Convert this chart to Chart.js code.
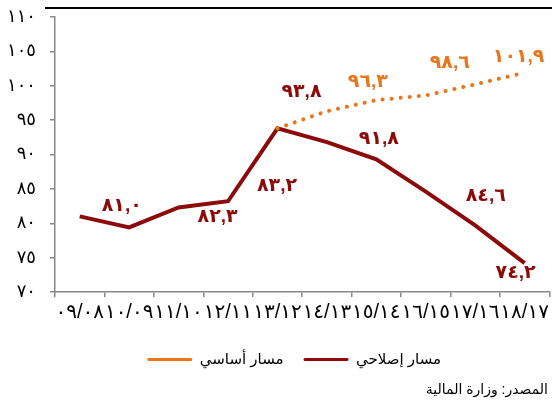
<!DOCTYPE html>
<html><head><meta charset="utf-8">
<script src="https://cdn.jsdelivr.net/npm/chart.js@4"></script>
<style>html,body{margin:0;padding:0;background:#fff}</style>
</head><body>
<canvas id="c" width="552" height="405"></canvas>
<script>
const categories = ['٠٩/٠٨','١٠/٠٩','١١/١٠','١٢/١١','١٣/١٢','١٤/١٣','١٥/١٤','١٦/١٥','١٧/١٦','١٨/١٧'];
const reformPath = [81.0, 79.4, 82.3, 83.2, 93.8, 91.8, 89.3, 84.6, 79.7, 74.2];
const baselinePath = [null, null, null, null, 93.8, 96.3, 97.9, 98.6, 100.2, 101.9];
const reformLabelIdx = [0, 2, 3, 4, 5, 7, 9];
const baselineLabelIdx = [5, 7, 9];
const yTickValues = [70, 75, 80, 85, 90, 95, 100, 105, 110];
const yTickLabels = ['٧٠','٧٥','٨٠','٨٥','٩٠','٩٥','١٠٠','١٠٥','١١٠'];
const seriesNames = ['مسار أساسي', 'مسار إصلاحي'];
const sourceText = 'المصدر: وزارة المالية';

const RED = '#8B0A0A';
const ORANGE = '#E8761C';
const FONT = "Arial, 'Liberation Sans', 'DejaVu Sans', sans-serif";
const toArabicDigits = s => s.replace(/[0-9]/g, d => '٠١٢٣٤٥٦٧٨٩'[+d]);
const fmt = v => toArabicDigits(v.toFixed(1).replace('.', ','));

// label offsets (pixels from the point) per dataset index -> {pointIndex: [dx, dy]}
const labelOffsets = [
  {5: [39, -29], 7: [22, -33], 9: [-8, -16]},
  {0: [40, -11], 2: [37, 9], 3: [47, -15], 4: [22, -37], 5: [50, -3], 7: [58, 4], 9: [-11, 10]}
];
const labelIdx = [baselineLabelIdx, reformLabelIdx];

const decorPlugin = {
  id: 'decor',
  afterLayout(chart) {
    if (chart.legend) { chart.legend.left -= 8; chart.legend.right -= 8; }
  },
  beforeDraw(chart) {
    const ctx = chart.ctx;
    ctx.save();
    ctx.strokeStyle = '#000';
    ctx.lineWidth = 2;
    ctx.beginPath();
    ctx.moveTo(45, 8);
    ctx.lineTo(552, 8);
    ctx.stroke();
    ctx.restore();
  },
  afterDatasetsDraw(chart) {
    const ctx = chart.ctx;
    ctx.save();
    ctx.font = 'bold 19px ' + FONT;
    ctx.textAlign = 'center';
    ctx.textBaseline = 'middle';
    if ('letterSpacing' in ctx) ctx.letterSpacing = '4px';
    chart.data.datasets.forEach((ds, di) => {
      const meta = chart.getDatasetMeta(di);
      ctx.fillStyle = ds.borderColor;
      labelIdx[di].forEach(i => {
        const pt = meta.data[i];
        const off = labelOffsets[di][i] || [0, -12];
        ctx.fillText(fmt(ds.data[i]), pt.x + off[0] + 2, pt.y + off[1]);
      });
    });
    ctx.restore();
  },
  afterDraw(chart) {
    const ctx = chart.ctx;
    ctx.save();
    ctx.font = '14px ' + FONT;
    ctx.fillStyle = '#000';
    ctx.textAlign = 'right';
    ctx.textBaseline = 'middle';
    ctx.fillText(sourceText, 548, 390);
    ctx.restore();
  }
};

new Chart(document.getElementById('c'), {
  type: 'line',
  data: {
    labels: categories,
    datasets: [
      {
        label: seriesNames[0],
        data: baselinePath,
        borderColor: ORANGE,
        backgroundColor: ORANGE,
        borderWidth: 4,
        borderDash: [0.1, 9],
        borderCapStyle: 'round',
        pointRadius: 0,
        tension: 0,
        fill: false
      },
      {
        label: seriesNames[1],
        data: reformPath,
        borderColor: RED,
        backgroundColor: RED,
        borderWidth: 4,
        borderJoinStyle: 'miter',
        pointRadius: 0,
        tension: 0,
        fill: false
      }
    ]
  },
  options: {
    responsive: false,
    devicePixelRatio: 1,
    animation: false,
    layout: {padding: {top: 17, left: 0, right: 2, bottom: 28}},
    plugins: {
      tooltip: {enabled: false},
      legend: {
        position: 'bottom',
        fullSize: false,
        labels: {
          boxWidth: 45,
          boxHeight: 3,
          padding: 20,
          color: '#000',
          font: {size: 15, family: FONT},
          generateLabels: chart => chart.data.datasets.map((ds, i) => ({
            text: ds.label, fillStyle: ds.borderColor, strokeStyle: ds.borderColor,
            lineWidth: 0, hidden: false, datasetIndex: i, fontColor: '#000', borderRadius: 1.5
          }))
        }
      }
    },
    scales: {
      x: {
        type: 'category',
        offset: true,
        afterFit: s => { s.height = 40; },
        grid: {display: true, drawOnChartArea: false, drawTicks: true, tickLength: 5, color: '#888', offset: true, lineWidth: 1.5},
        border: {display: true, color: '#888', width: 1.5},
        ticks: {autoSkip: false, maxRotation: 0, minRotation: 0, padding: 3, color: '#000', font: {size: 20, family: FONT}}
      },
      y: {
        min: 70,
        max: 110,
        afterFit: s => { s.width = 55; s.paddingTop = 0; s.paddingBottom = 0; },
        grid: {display: true, drawOnChartArea: false, drawTicks: true, tickLength: 5, color: '#888', lineWidth: 1.5},
        border: {display: true, color: '#888', width: 1.5},
        ticks: {
          stepSize: 5,
          padding: 14,
          color: '#000',
          font: {size: 18, family: FONT},
          callback: v => { const i = yTickValues.indexOf(v); return i >= 0 ? yTickLabels[i] : ''; }
        }
      }
    }
  },
  plugins: [decorPlugin]
});
</script>
</body></html>
